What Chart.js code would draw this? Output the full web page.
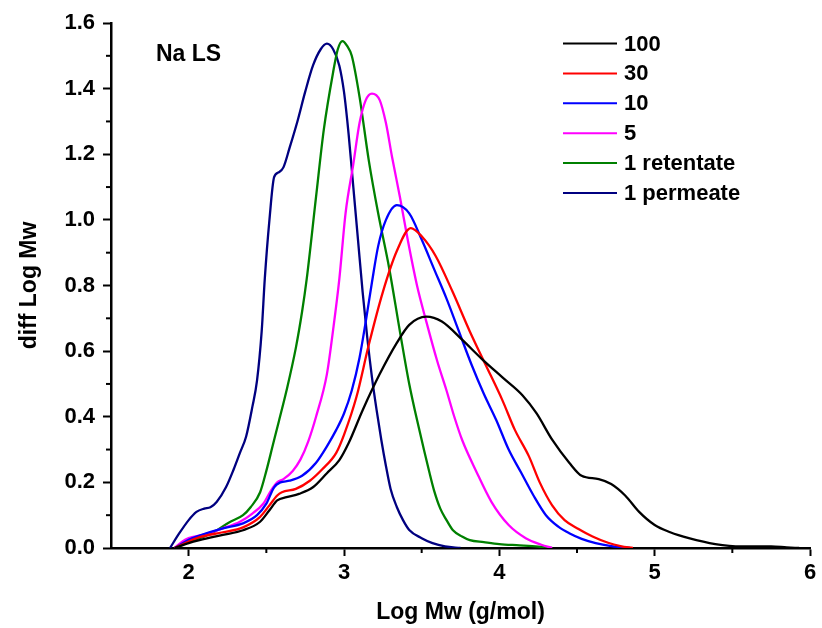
<!DOCTYPE html>
<html>
<head>
<meta charset="utf-8">
<script src="https://cdn.jsdelivr.net/npm/chart.js@4/dist/chart.umd.min.js"></script>
<style>
html,body{margin:0;padding:0;background:#fff;}
#wrap{width:822px;height:628px;position:relative;}
</style>
</head>
<body>
<div id="wrap"><canvas id="c" width="822" height="628"></canvas></div>
<script>
// ---- data ----
const seriesLabels = ['100', '30', '10', '5', '1 retentate', '1 permeate'];
const seriesColors = ['#000000', '#ff0000', '#0000ff', '#ff00ff', '#008000', '#000080'];

const s100X = [1.91,2.0,2.07,2.22,2.35,2.46,2.52,2.57,2.63,2.71,2.8,2.89,2.97,3.03,3.12,3.23,3.34,3.42,3.53,3.63,3.76,3.89,4.02,4.15,4.24,4.34,4.45,4.53,4.64,4.72,4.81,4.9,5.0,5.1,5.22,5.39,5.56,5.75,5.85,5.93];
const s100Y = [0,0.015,0.024,0.04,0.054,0.08,0.115,0.145,0.155,0.165,0.185,0.228,0.268,0.32,0.42,0.53,0.625,0.68,0.705,0.69,0.635,0.575,0.52,0.465,0.41,0.33,0.26,0.22,0.21,0.195,0.16,0.11,0.07,0.048,0.03,0.012,0.005,0.005,0.002,0];

const s30X = [1.91,2.0,2.07,2.22,2.35,2.46,2.52,2.57,2.6,2.69,2.78,2.86,2.95,3.0,3.08,3.16,3.25,3.34,3.43,3.5,3.59,3.7,3.81,3.91,4.02,4.1,4.19,4.26,4.34,4.42,4.51,4.6,4.7,4.78,4.86];
const s30Y = [0,0.02,0.033,0.048,0.063,0.095,0.13,0.16,0.17,0.18,0.205,0.24,0.29,0.345,0.46,0.62,0.78,0.905,0.975,0.95,0.89,0.78,0.66,0.56,0.45,0.36,0.28,0.2,0.13,0.085,0.058,0.035,0.016,0.006,0];

const s10X = [1.91,2.0,2.07,2.22,2.35,2.44,2.5,2.55,2.59,2.65,2.73,2.82,2.89,2.95,3.0,3.05,3.1,3.14,3.18,3.22,3.27,3.34,3.42,3.5,3.58,3.66,3.74,3.82,3.9,3.98,4.06,4.14,4.22,4.3,4.38,4.45,4.53,4.62,4.72,4.84];
const s10Y = [0,0.025,0.038,0.06,0.075,0.1,0.135,0.185,0.2,0.205,0.22,0.26,0.31,0.36,0.41,0.48,0.58,0.69,0.81,0.92,1.0,1.045,1.02,0.94,0.85,0.76,0.66,0.56,0.47,0.39,0.3,0.23,0.16,0.1,0.065,0.045,0.028,0.015,0.006,0];

const s5X = [1.91,1.96,2.0,2.09,2.22,2.33,2.41,2.48,2.53,2.57,2.61,2.67,2.72,2.77,2.82,2.89,2.93,2.97,3.01,3.06,3.1,3.14,3.18,3.23,3.27,3.31,3.36,3.41,3.47,3.53,3.6,3.66,3.71,3.76,3.85,3.95,4.06,4.17,4.27,4.34];
const s5Y = [0,0.02,0.03,0.04,0.06,0.08,0.105,0.135,0.175,0.2,0.21,0.235,0.27,0.325,0.4,0.53,0.665,0.82,1.02,1.17,1.295,1.365,1.385,1.365,1.295,1.19,1.07,0.94,0.8,0.69,0.57,0.48,0.4,0.33,0.235,0.14,0.07,0.03,0.01,0];

const sRetX = [1.91,2.0,2.07,2.16,2.26,2.35,2.4,2.46,2.5,2.54,2.58,2.63,2.69,2.73,2.76,2.82,2.87,2.93,2.96,2.99,3.02,3.05,3.1,3.16,3.22,3.29,3.36,3.42,3.48,3.55,3.58,3.62,3.66,3.7,3.76,3.81,3.9,4.0,4.13,4.25,4.34];
const sRetY = [0,0.02,0.03,0.048,0.078,0.1,0.125,0.17,0.235,0.31,0.385,0.48,0.61,0.72,0.82,1.07,1.275,1.45,1.52,1.545,1.53,1.5,1.375,1.18,1.02,0.855,0.66,0.5,0.37,0.23,0.175,0.12,0.085,0.055,0.035,0.024,0.018,0.012,0.008,0.004,0];

const sPermX = [1.88,1.94,2.0,2.05,2.1,2.14,2.18,2.24,2.29,2.33,2.37,2.41,2.44,2.47,2.49,2.52,2.55,2.58,2.61,2.65,2.7,2.75,2.8,2.85,2.89,2.93,2.97,3.0,3.03,3.06,3.09,3.12,3.15,3.18,3.21,3.24,3.27,3.3,3.34,3.38,3.42,3.5,3.57,3.65,3.75];
const sPermY = [0,0.045,0.085,0.11,0.12,0.124,0.14,0.185,0.24,0.29,0.34,0.43,0.51,0.66,0.82,1.0,1.13,1.145,1.16,1.22,1.3,1.39,1.47,1.52,1.537,1.52,1.47,1.39,1.26,1.1,0.94,0.78,0.64,0.52,0.42,0.33,0.25,0.18,0.125,0.085,0.055,0.03,0.015,0.005,0];

const xTickValues = [2, 3, 4, 5, 6];
const yTickValues = [0, 0.2, 0.4, 0.6, 0.8, 1.0, 1.2, 1.4, 1.6];
const xMinorValues = [2.5, 3.5, 4.5, 5.5];
const yMinorValues = [0.1, 0.3, 0.5, 0.7, 0.9, 1.1, 1.3, 1.5];
const xTitle = 'Log Mw (g/mol)';
const yTitle = 'diff Log Mw';
const noteText = 'Na LS';

// ---- build ----
const FONT = '"Liberation Sans", Arial, Helvetica, sans-serif';
const xs = [s100X, s30X, s10X, s5X, sRetX, sPermX];
const ys = [s100Y, s30Y, s10Y, s5Y, sRetY, sPermY];
const datasets = seriesLabels.map((lab, i) => ({
  label: lab,
  data: xs[i].map((x, j) => ({x: x, y: ys[i][j]})),
  borderColor: seriesColors[i],
  backgroundColor: seriesColors[i],
  borderWidth: 2.3,
  pointRadius: 0,
  showLine: true,
  fill: false,
  cubicInterpolationMode: 'monotone'
}));

const extras = {
  id: 'extras',
  afterDatasetsDraw(chart) {
    const ctx = chart.ctx;
    const xs = chart.scales.x, ys = chart.scales.y;
    ctx.save();
    ctx.strokeStyle = '#000';
    ctx.lineWidth = 2;
    // minor ticks
    xMinorValues.forEach(v => {
      const px = xs.getPixelForValue(v);
      ctx.beginPath(); ctx.moveTo(px, ys.bottom); ctx.lineTo(px, ys.bottom + 5); ctx.stroke();
    });
    yMinorValues.forEach(v => {
      const py = ys.getPixelForValue(v);
      ctx.beginPath(); ctx.moveTo(xs.left, py); ctx.lineTo(xs.left - 5, py); ctx.stroke();
    });
    // note
    ctx.fillStyle = '#000';
    ctx.font = 'bold 23px ' + FONT;
    ctx.textBaseline = 'alphabetic';
    ctx.textAlign = 'left';
    ctx.fillText(noteText, 156, 61);
    // legend
    ctx.font = 'bold 22px ' + FONT;
    ctx.textBaseline = 'middle';
    chart.data.datasets.forEach((ds, i) => {
      const y = 43.5 + i * 29.9;
      ctx.strokeStyle = ds.borderColor;
      ctx.lineWidth = 2;
      ctx.beginPath(); ctx.moveTo(563, y); ctx.lineTo(617, y); ctx.stroke();
      ctx.fillStyle = '#000';
      ctx.fillText(ds.label, 624, y + 1);
    });
    ctx.restore();
  }
};

new Chart(document.getElementById('c'), {
  type: 'scatter',
  data: {datasets: datasets},
  options: {
    responsive: false,
    animation: false,
    layout: {padding: {top: 23, right: 12, left: 0, bottom: 0}},
    plugins: {legend: {display: false}, tooltip: {enabled: false}},
    scales: {
      x: {
        type: 'linear', min: 1.5, max: 6,
        afterBuildTicks: s => { s.ticks = xTickValues.map(v => ({value: v})); },
        afterFit: s => { s.height = 80; },
        ticks: {color: '#000', font: {family: FONT, size: 22, weight: 'bold'}, padding: 4, maxRotation: 0,
                callback: v => String(v)},
        grid: {display: true, drawOnChartArea: false, tickLength: 8, tickWidth: 2, tickColor: '#000'},
        border: {display: true, color: '#000', width: 2.5},
        title: {display: true, text: xTitle, color: '#000', font: {family: FONT, size: 23, weight: 'bold'}, padding: {top: 0, bottom: 2}}
      },
      y: {
        type: 'linear', min: 0, max: 1.6,
        afterBuildTicks: s => { s.ticks = yTickValues.map(v => ({value: v})); },
        afterFit: s => { s.width = 111; },
        ticks: {color: '#000', font: {family: FONT, size: 22, weight: 'bold'}, padding: 8,
                callback: v => Number(v).toFixed(1)},
        grid: {display: true, drawOnChartArea: false, tickLength: 8, tickWidth: 2, tickColor: '#000'},
        border: {display: true, color: '#000', width: 2.5},
        title: {display: true, text: yTitle, color: '#000', font: {family: FONT, size: 23, weight: 'bold'}, padding: {top: 16, bottom: 0}}
      }
    }
  },
  plugins: [extras]
});
</script>
</body>
</html>
